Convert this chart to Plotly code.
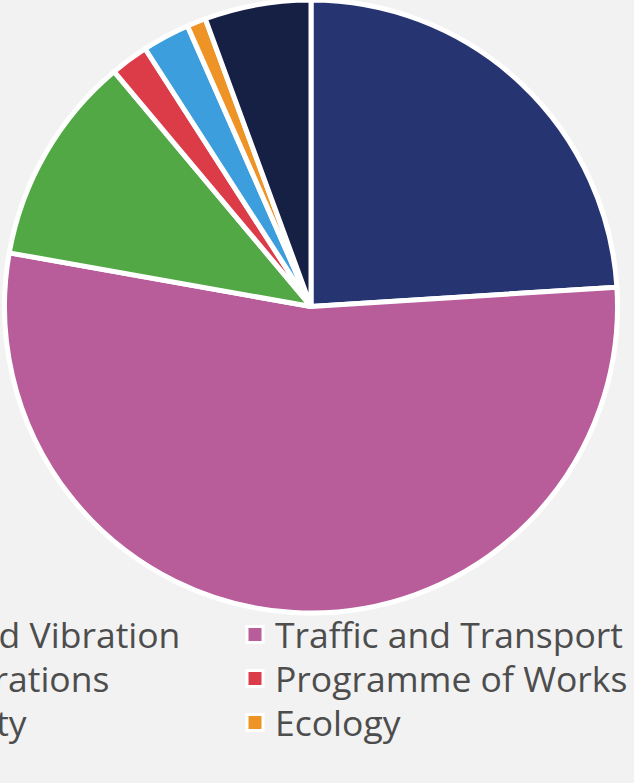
import plotly.graph_objects as go

labels = ["Noise and Vibration", "Traffic and Transport", "Site Operations",
          "Programme of Works", "Air Quality", "Ecology", "Other"]
values = [24.0, 53.8, 11.1, 2.0, 2.5, 1.0, 5.6]
colors = ["#263571", "#b85c9a", "#52a844", "#dc3c48", "#3c9edd", "#ee9426", "#161f44"]

W, H = 634, 783
pie_x = [4.5, 617.5]            # pie domain (px)
pie_y = [0, 613]
col_x = [-186, 235]             # legend left edges (px) for the two legend columns
row_c = [634, 678, 722, 766]    # legend row centres (px)

fig = go.Figure()
legend_font = dict(family="Open Sans", size=35.5, color="#4d4d4d")
legends = {}
for i, lab in enumerate(labels):
    col, row = i % 2, i // 2
    key = "legend" if i == 0 else f"legend{i + 1}"
    fig.add_trace(go.Scatter(
        x=[None], y=[None], mode="markers", name=lab, legend=key,
        marker=dict(symbol="square", size=16, color=colors[i],
                    line=dict(color="white", width=3)),
        hoverinfo="skip"))
    legends[key] = dict(x=col_x[col] / W, y=1 - (row_c[row] - 29) / H,
                        xanchor="left", yanchor="top", font=legend_font,
                        bgcolor="rgba(0,0,0,0)")

fig.add_trace(go.Pie(
    labels=labels, values=values, sort=False, direction="clockwise", rotation=0,
    marker=dict(colors=colors, line=dict(color="white", width=5)),
    textinfo="none", showlegend=False,
    domain=dict(x=[pie_x[0] / W, pie_x[1] / W],
                y=[1 - pie_y[1] / H, 1 - pie_y[0] / H])))

fig.update_layout(
    width=W, height=H,
    margin=dict(l=0, r=0, t=0, b=0, autoexpand=False),
    paper_bgcolor="#f2f2f2", plot_bgcolor="#f2f2f2",
    xaxis=dict(visible=False), yaxis=dict(visible=False),
    **legends,
)

fig.write_html("out.html",
               config={"displayModeBar": False},
               post_script="document.body.style.margin='0';"
                           "document.body.style.overflow='hidden';"
                           "document.body.style.background='#f2f2f2';")
